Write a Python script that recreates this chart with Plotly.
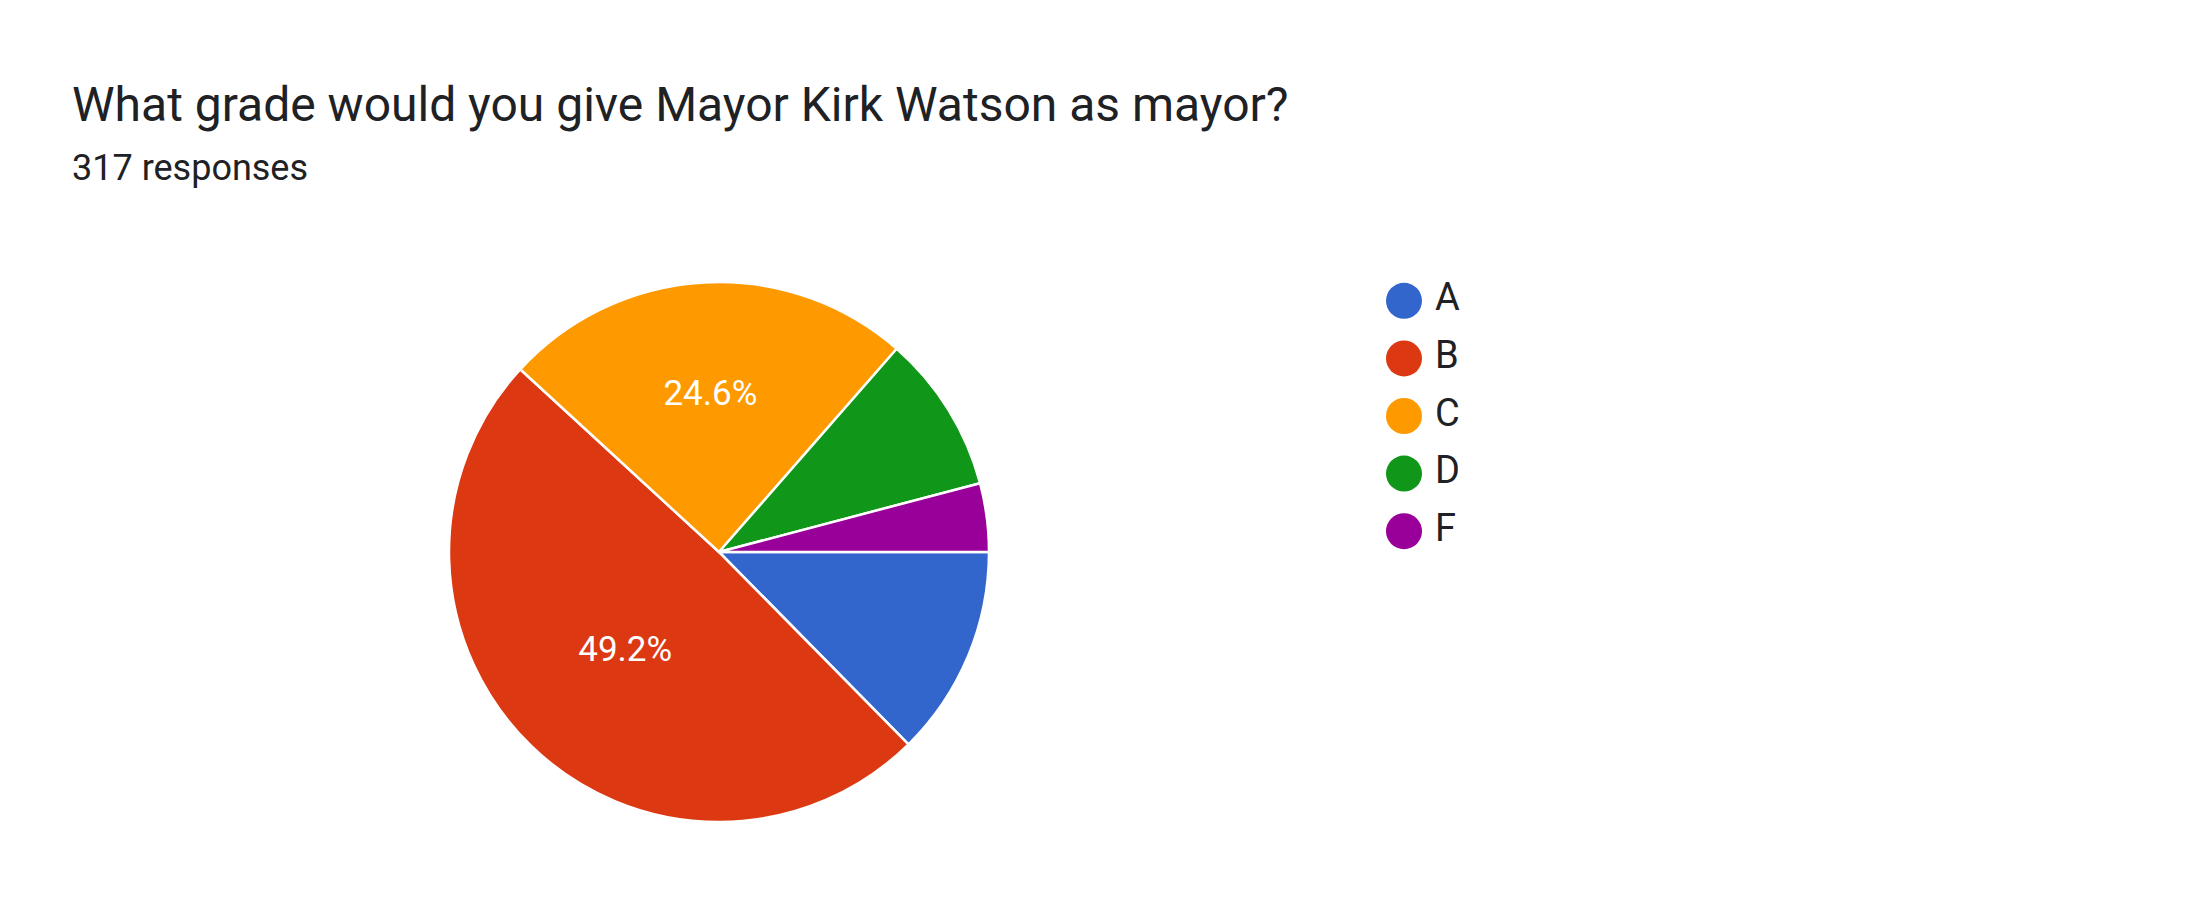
import plotly.graph_objects as go

# Survey results (317 responses)
grades = ["A", "B", "C", "D", "F"]
counts = [40, 156, 78, 30, 13]
colors = ["#3366cc", "#dc3912", "#ff9900", "#109618", "#990099"]

title_text = "What grade would you give Mayor Kirk Watson as mayor?"
subtitle_text = f"{sum(counts)} responses"

total = sum(counts)
# Google-style: only the larger slices get a percentage label
labels_text = [f"{c / total * 100:.1f}%" if c / total > 0.2 else "" for c in counts]

W, H = 2190, 924
cx, cy, r = 711, 544, 270

fig = go.Figure()

fig.add_trace(go.Pie(
    labels=grades,
    values=counts,
    sort=False,
    direction="clockwise",
    rotation=90,
    marker=dict(colors=colors, line=dict(color="white", width=2.5)),
    text=labels_text,
    textinfo="text",
    textposition="inside",
    insidetextorientation="horizontal",
    textfont=dict(family="Roboto", size=35, color="white"),
    domain=dict(x=[(cx - r) / W, (cx + r) / W], y=[1 - (cy + r) / H, 1 - (cy - r) / H]),
    showlegend=False,
    hoverinfo="label+value+percent",
))

# Legend with round markers, drawn as scatters on hidden axes
rows = list(range(len(grades)))
fig.add_trace(go.Scatter(
    x=[20] * len(grades),
    y=rows,
    mode="markers",
    marker=dict(color=colors, size=36, symbol="circle"),
    showlegend=False,
    hoverinfo="skip",
))
fig.add_trace(go.Scatter(
    x=[51] * len(grades),
    y=rows,
    mode="text",
    marker=dict(size=1),
    text=grades,
    textposition="middle right",
    textfont=dict(family="Roboto", size=38, color="#202124"),
    showlegend=False,
    hoverinfo="skip",
))

fig.update_layout(
    width=W,
    height=H,
    margin=dict(l=0, r=0, t=0, b=0),
    paper_bgcolor="white",
    plot_bgcolor="white",
    font=dict(family="Roboto", color="#202124"),
    xaxis=dict(domain=[1376 / W, 1676 / W], range=[0, 300], visible=False, fixedrange=True),
    yaxis=dict(domain=[1 - 552 / H, 1 - 264 / H], range=[4.5, -0.5], visible=False, fixedrange=True),
    annotations=[
        dict(text=title_text, x=62 / W, y=1 - 96 / H, xref="paper", yref="paper",
             xanchor="left", yanchor="middle", showarrow=False,
             font=dict(family="Roboto", size=48, color="#202124")),
        dict(text=subtitle_text, x=62 / W, y=1 - 160 / H, xref="paper", yref="paper",
             xanchor="left", yanchor="middle", showarrow=False,
             font=dict(family="Roboto", size=36, color="#202124")),
    ],
)

fig.write_html("out.html")
